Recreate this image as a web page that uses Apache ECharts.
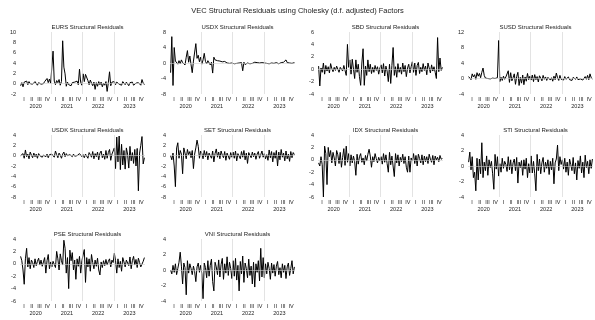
<!DOCTYPE html>
<html>
<head>
<meta charset="utf-8">
<script src="https://cdn.jsdelivr.net/npm/echarts@6/dist/echarts.min.js"></script>
<style>
  html, body { margin: 0; padding: 0; background: #fff; }
  #main { width: 595px; height: 320px; }
</style>
</head>
<body>
<div id="main"></div>
<script>
// weekly-ish residuals, 26 points per year, 2020-2023
var years = ['2020', '2021', '2022', '2023'];
var quarters = ['I', 'II', 'III', 'IV'];
var titles = ['EURS', 'USDX', 'SBD', 'SUSD', 'USDK', 'SET', 'IDX', 'STI', 'PSE', 'VNI'];

var eurs = [
  -0.4, 0.2, -0.6, 0.3, 0.1, 0.5, -0.2, 0.4, 0.0, 0.3, -0.1, 0.2, 0.4, 0.1, -0.3, 0.2, 0.3, -0.1, 0.2, 0.0, 0.4, 0.3, 1.0, 0.2, 0.9, 0.1,
  0.3, 6.3, 0.5, -0.2, 0.6, 0.2, 0.8, -0.3, 0.4, 8.3, 3.2, 1.9, -0.5, 0.3, -0.2, 0.1, -0.4, 0.2, -0.1, 0.3, 0.0, 0.5, -0.2, 2.8, 0.2, -0.3,
  1.9, 0.4, 1.8, 1.9, 0.6, -0.2, 0.7, 0.1, -0.4, 0.3, -1.1, 0.2, -0.5, 0.4, -0.2, 0.3, -0.6, 0.1, -0.3, 0.4, -1.5, 0.2, 2.3, -0.4, 0.3, 0.1,
  0.4, -0.2, 0.3, 0.5, -0.1, 0.2, -0.3, 0.4, 0.1, -0.2, 0.3, 0.0, -0.4, 0.2, -0.1, 0.3, -0.3, -0.2, 0.1, -0.1, 0.2, 0.4, -0.3, 0.8, 0.1, -0.2
];
var usdx = [
  -2.5, 6.8, -5.8, 4.0, 0.5, 1.0, -0.3, 0.6, -0.2, 0.8, 0.1, 0.4, -0.5, 1.5, 3.2, 0.2, 1.8, -0.4, -2.5, 0.5, 0.9, 5.0, 1.2, 2.0, 0.3, 1.5,
  -0.3, 0.8, 2.5, 0.4, -0.2, 0.6, 0.3, -0.5, 0.2, -2.6, 1.5, 0.8, 0.3, 0.6, 0.2, 0.5, 0.1, 0.3, -0.1, 0.4, 0.2, 0.0, 0.3, -0.1, 0.2, 0.0,
  0.1, -0.2, 0.2, -0.1, 0.3, 0.0, -0.3, 0.1, -2.0, 0.2, -0.4, 0.1, 0.0, 0.2, -0.2, 0.1, -0.1, 0.0, 0.2, -0.2, 0.1, -0.1, 0.0, -0.2, 0.1, -0.1,
  0.0, 0.2, -0.1, 0.1, -0.2, 0.3, 0.0, 0.2, -0.1, 0.3, 0.1, 0.4, -0.2, 0.3, 0.1, 0.5, 0.2, -0.3, 0.8, 0.1, -0.2, 0.0, 0.1, -0.1, 0.0, 0.1
];
var sbd = [
  0.5, -2.7, 0.2, -0.5, 1.0, -0.8, 0.6, -0.3, 0.4, -0.6, 0.9, 0.1, -0.4, 0.3, -0.2, 0.5, 0.0, -0.5, 0.3, 0.1, -0.3, 0.6, -0.2, -1.0, 4.0, 0.3,
  1.5, -0.8, 1.6, 1.4, -1.5, 1.5, -0.5, 0.8, -1.2, -2.6, 1.0, 3.3, -2.6, 0.5, -1.0, 1.5, -0.4, 0.8, -0.7, 0.3, -0.5, 0.6, -0.2, 0.4, -0.8, 0.2,
  0.7, -0.6, 0.9, -1.1, 0.5, -0.3, -2.0, 0.8, -2.3, 0.6, 3.5, -1.0, 0.4, -1.3, 0.9, -0.5, 0.3, -0.8, 1.0, -0.4, 0.6, -1.2, 0.2, 0.8, -0.6, 0.4,
  1.2, -0.5, 1.0, -1.0, 0.6, 1.1, -0.7, 0.3, -0.4, 0.9, -0.2, 0.5, -0.9, 1.0, 0.2, -0.6, 0.7, -0.3, 0.4, -0.5, -1.5, 5.1, -0.4, 1.8, -0.2, 0.3
];
var susd = [
  0.5, 0.8, -0.3, 1.2, 0.4, 1.0, -0.2, 1.5, 0.6, 1.3, 0.2, 1.6, 2.7, 0.8, 0.1, 0.2, 0.0, 0.1, -0.1, 0.0, 0.1, -0.2, 0.0, 0.3, 0.2, 9.8,
  -0.8, 0.3, -0.5, 0.6, -0.2, 0.4, 0.8, 2.0, -1.0, 1.5, -0.6, 0.2, 1.2, -1.5, 0.5, 1.6, -1.8, 0.3, -1.2, 0.9, -1.6, 0.4, -0.7, 1.3, -0.3, 0.6,
  -0.4, 0.9, -0.8, 1.0, -0.3, 0.5, -0.9, 0.7, 0.1, -0.6, 0.8, -0.2, 0.4, -0.5, 0.3, 0.0, -0.4, 0.2, -0.7, 0.6, -0.3, 1.4, 0.2, -0.5, 0.8, -0.2,
  0.3, -0.4, 0.5, -0.2, 0.1, 0.4, -0.3, 0.2, -0.5, 0.3, 0.0, -0.2, 0.4, -0.3, 0.2, -0.1, 0.3, -0.4, 0.1, 0.5, -0.2, 0.8, -0.3, 1.2, 0.2, -0.1
];
var usdk = [
  0.0, -0.3, 0.4, -0.5, 1.1, -0.2, 0.3, -0.6, 0.7, 0.1, -0.4, 0.5, -0.2, 0.3, -0.5, 0.4, 0.0, 0.2, -0.3, 0.1, 0.4, -0.2, 0.3, -0.4, 0.2, 0.0,
  0.3, 0.6, -0.3, 0.9, 0.2, -0.4, 0.5, 0.1, -0.5, 0.3, 0.7, -0.2, 0.4, 0.0, -0.3, 0.2, 0.1, -0.2, 0.3, -0.1, 0.2, 0.0, -0.3, 0.4, 0.1, -0.2,
  0.2, -0.4, 0.3, 0.0, -0.5, 0.6, 0.2, -0.3, 0.8, -0.6, 0.4, -0.2, 0.7, -0.8, 0.5, 0.9, -0.4, 0.3, -0.7, 1.0, -0.5, 0.6, 1.2, -0.9, 0.3, 0.2,
  1.5, -2.5, 3.6, -1.2, 3.8, -2.7, 2.2, -1.8, 1.0, -2.6, 1.5, 0.3, -2.4, 1.8, -1.0, 0.6, -1.5, 1.2, -2.0, 1.4, -6.8, 0.5, 2.0, 3.7, -1.6, -0.4
];
var set = [
  0.0, -0.8, 0.5, -2.0, -6.0, 1.5, 2.5, -0.5, 1.0, 0.3, -3.5, 1.5, 0.5, -0.6, 1.2, 0.2, 0.8, -0.4, 1.0, -2.5, 0.3, 1.5, 3.0, 1.8, -0.5, 0.9,
  0.4, -0.6, 1.0, -0.2, 0.8, -0.8, 0.5, 0.2, -0.5, 0.9, -1.2, 0.4, 1.3, -0.3, 0.7, -0.6, 0.9, 0.1, -0.4, 0.8, -0.9, 0.5, 0.2, -0.7, 0.6, -0.3,
  0.7, -0.5, 0.9, -1.0, 0.4, 0.2, -0.6, 0.8, -0.3, 1.0, -0.8, 0.5, -1.5, 0.6, 0.1, -0.4, 0.7, -0.2, 0.5, -0.7, 0.3, 0.8, -0.5, 0.2, 0.9, -0.3,
  0.4, -0.6, 0.2, -0.9, 1.1, -0.4, 0.8, -1.2, 0.6, -0.5, 1.0, -2.0, 0.7, -0.8, 1.2, -0.3, 0.5, -1.0, 0.9, -0.6, 0.3, -1.1, 0.8, -0.4, 0.6, 0.2
];
var idx = [
  -0.5, -1.0, 0.5, -0.8, -6.0, 2.2, 1.0, -4.0, 2.0, 0.5, 1.5, -0.5, 1.2, 0.3, -1.0, 1.5, 0.8, -0.6, 1.2, -1.2, 0.4, 1.8, -0.9, 2.2, -0.4, 1.0,
  -1.0, 0.8, -0.5, 0.6, -0.3, -2.5, 0.9, -0.7, 0.5, 1.0, -0.4, 0.3, -0.8, 0.7, -0.2, 0.9, 1.7, 0.6, -1.2, 0.5, -0.3, 1.0, 0.2, -0.5, 0.4, -0.2,
  0.5, -0.7, 1.0, -0.4, 0.8, -0.6, -2.0, 1.2, -0.8, 0.6, 0.3, -2.7, 1.0, -0.5, 0.8, -1.0, 0.4, -0.3, 0.9, -0.6, 0.5, -1.2, -2.0, 0.6, -2.0, 0.3,
  -0.2, 1.0, -0.6, 0.7, -1.0, 0.9, 0.2, -0.5, 0.8, -0.8, 0.6, -0.3, 0.5, -0.6, 0.9, 0.1, -0.4, 0.7, -0.8, 0.6, 0.0, 0.4, -0.3, 0.7, 0.1, 0.2
];
var sti = [
  0.5, 1.8, -0.5, 1.2, -1.5, -0.8, -3.2, 1.0, -1.8, 0.9, -1.0, 3.0, -1.5, 0.5, -0.6, 1.3, -1.2, 0.8, -0.2, 0.6, -1.0, -3.0, 1.5, -0.4, 1.2, -1.3,
  0.3, -0.8, 1.0, -0.3, 0.6, 0.2, -0.7, 1.2, -0.5, 0.8, -1.0, 0.4, 0.9, -0.6, 1.1, -2.2, 0.5, -0.2, 0.7, -1.2, 0.8, -0.4, 1.0, -1.5, 0.3, -0.9,
  1.3, -0.9, 0.6, -1.0, -3.2, 1.5, -0.6, 0.9, -1.0, 0.4, 1.1, -0.8, 0.5, -0.3, 0.8, -1.1, 0.6, -0.5, 1.0, -2.3, 0.4, 0.9, 2.7, -0.6, 1.2, 0.2,
  0.8, -0.4, 1.0, -0.8, 0.5, -1.2, 0.9, 0.2, -0.6, 1.1, -1.0, 0.4, -1.8, 0.7, -0.3, 1.3, -0.9, 0.5, -1.5, 1.4, -0.2, 0.6, -1.0, 0.8, -0.3, 0.9
];
var pse = [
  1.2, 0.5, -1.0, -3.3, 0.8, 2.5, -0.5, 1.0, -0.8, 0.6, 0.2, -0.6, 0.8, -0.3, 0.4, 0.9, -0.2, 0.6, -0.4, 0.3, 1.0, -1.5, 0.5, 1.5, -0.8, 0.3,
  -0.5, 0.4, 0.2, -0.6, 2.0, 0.8, -1.0, 1.6, 0.5, -0.2, 3.8, 2.5, -1.5, 1.0, -4.0, 2.2, 0.5, 1.8, -1.0, 0.6, -2.5, 0.8, -0.4, 1.2, -1.5, 0.5,
  0.3, 2.3, -3.0, 1.0, -0.5, 0.8, -1.2, 1.5, 0.2, -0.8, 0.6, -0.4, 0.9, -1.0, -1.8, 0.3, -0.6, 0.5, -0.3, 0.7, -0.2, 0.4, 0.8, -0.5, 0.6, 0.2,
  1.7, 0.5, -1.5, 0.8, -0.6, 0.4, -1.2, 1.0, 0.3, -0.5, 0.6, 0.9, -0.3, 1.1, -0.8, 0.5, 1.2, -0.2, 0.7, -0.6, 0.9, 0.2, -0.5, -0.7, 0.4, 1.0
];
var vni = [
  0.0, -0.5, 0.6, -0.3, 0.8, -0.6, 0.2, 1.0, 2.3, 0.5, -1.8, 0.9, 0.3, -3.2, 1.2, -0.4, 0.8, 0.2, -0.6, 0.5, -0.2, -1.5, 0.4, 0.9, -0.3, 0.6,
  -0.5, -3.7, 0.9, 0.3, -1.0, 1.2, -0.8, 0.6, 1.4, -1.5, -2.7, 1.0, 0.4, -0.6, 1.3, -0.9, 0.7, 1.5, -1.2, 0.8, -0.4, 1.7, -0.7, 1.0, 0.2, -1.1,
  1.2, -0.8, 1.5, -1.3, 0.6, -2.7, 1.1, -0.5, 1.8, -1.6, 0.9, 0.2, -1.0, 1.4, -0.7, 0.5, -1.8, 1.0, -2.2, 0.8, -0.3, 1.2, -1.4, 2.8, -0.9, 1.6,
  -1.0, 0.8, -0.5, 1.0, 0.2, -1.2, 0.9, -0.4, 0.7, -0.8, 0.5, 1.1, -0.6, 0.3, -1.0, 0.8, -0.3, 0.6, -1.1, 0.4, 0.9, -0.7, 0.2, 1.2, -0.5, 0.4
];

var seriesData = [eurs, usdx, sbd, susd, usdk, set, idx, sti, pse, vni];
var yMin = [-2, -8, -4, -4, -8, -8, -6, -4, -6, -4];
var yMax = [10, 8, 6, 12, 4, 4, 4, 4, 4, 4];
var yStep = [2, 4, 2, 4, 2, 2, 2, 2, 2, 2];

var perYear = 26;
var lefts = [20, 170, 318, 468];
var tops = [32, 135, 239];
var font = 'Liberation Sans';

var quarterLabels = [];
years.forEach(function () { quarterLabels = quarterLabels.concat(quarters); });

var option = {
  backgroundColor: '#fff',
  animation: false,
  textStyle: { fontFamily: font },
  title: [{
    text: 'VEC Structural Residuals using Cholesky (d.f. adjusted) Factors',
    left: 'center',
    top: 2,
    textStyle: { fontSize: 7.5, fontWeight: 'normal', color: '#222', fontFamily: font }
  }],
  grid: [],
  xAxis: [],
  yAxis: [],
  series: []
};

seriesData.forEach(function (vals, i) {
  var row = Math.floor(i / 4), col = i % 4;
  var left = lefts[col], top = tops[row];
  option.grid.push({ left: left, top: top, width: 125, height: 62 });
  option.title.push({
    text: titles[i] + ' Structural Residuals',
    left: left + 62.5,
    top: top - 13,
    textAlign: 'center',
    textStyle: { fontSize: 6, fontWeight: 'normal', color: '#222', fontFamily: font }
  });
  option.xAxis.push({
    gridIndex: i, type: 'value', min: 0, max: years.length * perYear, show: false
  });
  option.xAxis.push({
    gridIndex: i, type: 'category', position: 'bottom', data: quarterLabels, boundaryGap: true,
    axisLine: { show: false }, axisTick: { show: false }, splitLine: { show: false },
    axisLabel: { fontSize: 5.5, color: '#222', margin: 2, interval: 0 }
  });
  option.xAxis.push({
    gridIndex: i, type: 'category', position: 'bottom', offset: 7.5, data: years, boundaryGap: true,
    axisLine: { show: false }, axisTick: { show: false }, splitLine: { show: false },
    axisLabel: { fontSize: 5.5, color: '#222', margin: 2, interval: 0 }
  });
  option.yAxis.push({
    gridIndex: i, type: 'value', min: yMin[i], max: yMax[i], interval: yStep[i],
    axisLine: { show: false }, axisTick: { show: false }, splitLine: { show: false },
    axisLabel: { fontSize: 5.5, color: '#222', margin: 4 }
  });
  var yearLines = [];
  for (var y = 1; y < years.length; y++) yearLines.push({ xAxis: y * perYear });
  yearLines.push({ yAxis: 0 });
  option.series.push({
    type: 'line',
    xAxisIndex: i * 3,
    yAxisIndex: i,
    showSymbol: false,
    silent: true,
    lineStyle: { color: '#000', width: 1 },
    data: vals.map(function (v, j) { return [j + 0.5, v]; }),
    markLine: {
      silent: true, symbol: 'none', label: { show: false },
      lineStyle: { color: '#d0d0d0', width: 0.6, type: 'solid' },
      data: yearLines
    },
    z: 3
  });
});

var chart = echarts.init(document.getElementById('main'), null, { renderer: 'canvas' });
chart.setOption(option);
</script>
</body>
</html>
